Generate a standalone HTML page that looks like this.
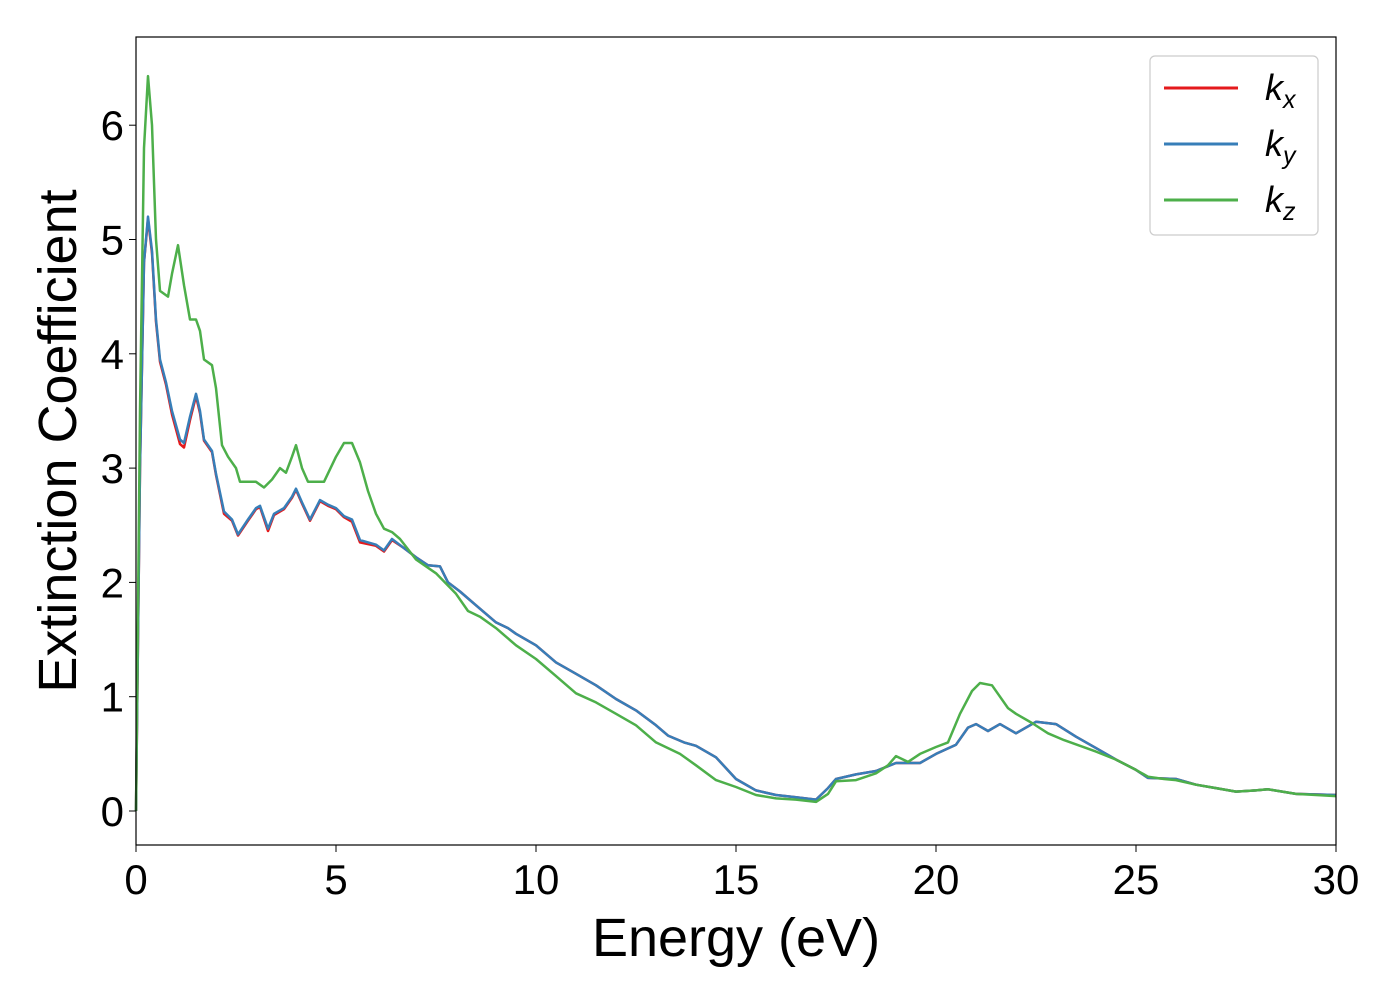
<!DOCTYPE html>
<html><head><meta charset="utf-8"><style>
body{margin:0;background:#fff;}
svg text{font-family:"Liberation Sans","DejaVu Sans",sans-serif;fill:#000;}
</style></head><body>
<svg id="chart" width="1400" height="1000" xmlns="http://www.w3.org/2000/svg">
<rect x="0" y="0" width="1400" height="1000" fill="#fff"/>
<g id="series"></g>
<g id="axes"></g>
<rect x="136" y="37" width="1200" height="808" fill="none" stroke="#000" stroke-width="1.2"/>
<text x="736" y="956" font-size="54" text-anchor="middle">Energy (eV)</text>
<text transform="translate(76,441) rotate(-90)" font-size="54" text-anchor="middle">Extinction Coefficient</text>
<g>
<rect x="1150" y="56" width="168" height="179" rx="5" fill="#fff" stroke="#ccc" stroke-width="1.2"/>
<line x1="1164" y1="88" x2="1238" y2="88" stroke="#e41a1c" stroke-width="3"/>
<text x="1265" y="100" font-size="36" font-style="italic">k<tspan font-size="25" dy="8">x</tspan></text>
<line x1="1164" y1="144" x2="1238" y2="144" stroke="#377eb8" stroke-width="3"/>
<text x="1265" y="156" font-size="36" font-style="italic">k<tspan font-size="25" dy="8">y</tspan></text>
<line x1="1164" y1="200" x2="1238" y2="200" stroke="#4daf4a" stroke-width="3"/>
<text x="1265" y="212" font-size="36" font-style="italic">k<tspan font-size="25" dy="8">z</tspan></text>
</g>
</svg>
<script>
const xTicks=[0,5,10,15,20,25,30];
const yTicks=[0,1,2,3,4,5,6];
const energyZ=[0,0.1,0.2,0.3,0.4,0.5,0.6,0.8,0.9,1.05,1.2,1.35,1.5,1.6,1.7,1.9,2.0,2.15,2.3,2.5,2.6,3.0,3.2,3.4,3.6,3.75,3.9,4.0,4.15,4.3,4.5,4.7,5.0,5.2,5.4,5.6,5.8,6.0,6.2,6.4,6.6,7.0,7.5,8,8.3,8.6,9.0,9.5,10,10.5,11,11.5,12,12.5,13,13.3,13.6,14,14.5,15,15.5,16,16.5,17,17.3,17.5,18,18.5,18.8,19.0,19.3,19.6,20,20.3,20.6,20.9,21.1,21.4,21.6,21.8,22,22.4,22.8,23.2,23.6,24,24.5,25,25.3,25.7,26,26.5,27,27.5,28,28.3,29,30];
const kz=[0,3.5,5.8,6.43,6.0,5.0,4.55,4.5,4.7,4.95,4.6,4.3,4.3,4.2,3.95,3.9,3.7,3.2,3.1,3.0,2.88,2.88,2.83,2.9,3.0,2.96,3.1,3.2,3.0,2.88,2.88,2.88,3.1,3.22,3.22,3.05,2.8,2.6,2.47,2.44,2.38,2.2,2.08,1.9,1.75,1.7,1.6,1.45,1.33,1.18,1.03,0.95,0.85,0.75,0.6,0.55,0.5,0.4,0.27,0.21,0.14,0.11,0.1,0.08,0.15,0.26,0.27,0.33,0.4,0.48,0.43,0.5,0.56,0.6,0.85,1.05,1.12,1.1,1.0,0.9,0.85,0.77,0.68,0.62,0.57,0.52,0.45,0.36,0.3,0.28,0.27,0.23,0.2,0.17,0.18,0.19,0.15,0.13];
const energyXY=[0,0.1,0.2,0.3,0.4,0.5,0.6,0.75,0.9,1.1,1.2,1.35,1.5,1.6,1.7,1.9,2.0,2.2,2.4,2.55,2.8,3.0,3.1,3.3,3.45,3.7,3.9,4.0,4.15,4.35,4.6,4.8,5.0,5.2,5.4,5.6,6.0,6.2,6.4,6.7,7,7.3,7.6,7.8,8.1,8.5,9,9.3,9.5,10,10.5,11,11.5,12,12.5,13,13.3,13.7,14,14.5,15,15.5,16,16.5,17,17.3,17.5,18,18.5,19,19.3,19.6,20,20.5,20.8,21,21.3,21.6,22,22.5,23,23.5,24,24.5,25,25.3,26,26.5,27,27.5,28,28.3,29,30];
const ky=[0,3,4.8,5.2,4.9,4.3,3.95,3.75,3.5,3.25,3.22,3.45,3.65,3.5,3.25,3.15,2.95,2.62,2.55,2.42,2.55,2.65,2.67,2.47,2.6,2.65,2.75,2.82,2.7,2.55,2.72,2.68,2.65,2.58,2.55,2.37,2.33,2.28,2.38,2.3,2.22,2.15,2.14,2.0,1.92,1.8,1.65,1.6,1.55,1.45,1.3,1.2,1.1,0.98,0.88,0.75,0.66,0.6,0.57,0.47,0.28,0.18,0.14,0.12,0.1,0.2,0.28,0.32,0.35,0.42,0.42,0.42,0.5,0.58,0.73,0.76,0.7,0.76,0.68,0.78,0.76,0.65,0.55,0.45,0.36,0.29,0.28,0.23,0.2,0.17,0.18,0.19,0.15,0.14];
const kx=[0,3,4.8,5.18,4.88,4.28,3.93,3.73,3.47,3.21,3.18,3.42,3.63,3.48,3.24,3.14,2.94,2.6,2.54,2.41,2.54,2.64,2.66,2.45,2.59,2.64,2.74,2.81,2.69,2.54,2.71,2.67,2.64,2.57,2.53,2.35,2.32,2.27,2.37,2.3,2.22,2.15,2.14,2.0,1.92,1.8,1.65,1.6,1.55,1.45,1.3,1.2,1.1,0.98,0.88,0.75,0.66,0.6,0.57,0.47,0.28,0.18,0.14,0.12,0.1,0.2,0.28,0.32,0.35,0.42,0.42,0.42,0.5,0.58,0.73,0.76,0.7,0.76,0.68,0.78,0.76,0.65,0.55,0.45,0.36,0.29,0.28,0.23,0.2,0.17,0.18,0.19,0.15,0.14];
const X=v=>136+v*40;
const Y=v=>811-v*114.3;
const NS="http://www.w3.org/2000/svg";
const ax=document.getElementById('axes');
xTicks.forEach(t=>{
 const l=document.createElementNS(NS,'line');
 
 
 l.setAttribute('x1',X(t));l.setAttribute('x2',X(t));l.setAttribute('y1',845);l.setAttribute('y2',852);l.setAttribute('stroke','#000');
 ax.appendChild(l);
 const tx=document.createElementNS(NS,'text');
 
 
 tx.setAttribute('x',X(t));tx.setAttribute('y',894);tx.setAttribute('font-size','42');tx.setAttribute('text-anchor','middle');
 tx.textContent=t;ax.appendChild(tx);
});
yTicks.forEach(t=>{
 const l=document.createElementNS(NS,'line');
 
 
 l.setAttribute('x1',129);l.setAttribute('x2',136);l.setAttribute('y1',Y(t));l.setAttribute('y2',Y(t));l.setAttribute('stroke','#000');
 ax.appendChild(l);
 const tx=document.createElementNS(NS,'text');
 
 
 tx.setAttribute('x',124);tx.setAttribute('y',Y(t)+15);tx.setAttribute('font-size','42');tx.setAttribute('text-anchor','end');
 tx.textContent=t;ax.appendChild(tx);
});
const sg=document.getElementById('series');
function draw(xs,ys,color,name){
 const p=document.createElementNS(NS,'path');
 
 
 p.setAttribute('d',xs.map((x,i)=>(i?'L':'M')+X(x).toFixed(1)+','+Y(ys[i]).toFixed(1)).join(''));
 p.setAttribute('fill','none');p.setAttribute('stroke',color);p.setAttribute('stroke-width','2.5');p.setAttribute('stroke-linejoin','round');
 sg.appendChild(p);
}
draw(energyXY,kx,'#e41a1c','series-kx');
draw(energyXY,ky,'#377eb8','series-ky');
draw(energyZ,kz,'#4daf4a','series-kz');
</script>
</body></html>
